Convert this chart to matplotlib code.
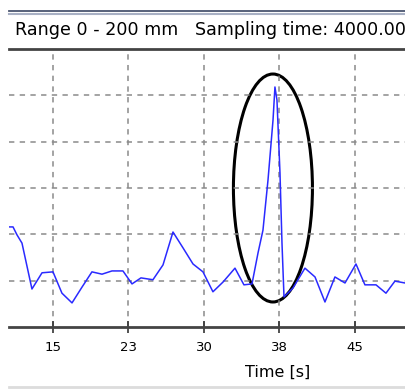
import matplotlib.pyplot as plt
from matplotlib.patches import Ellipse
from matplotlib.lines import Line2D

# time [s] and sensor signal (arbitrary units, grid every 10)
time_s = [10.63, 11.03, 11.42, 11.92, 12.91, 13.91, 15.0, 15.89, 16.89, 17.88,
          18.87, 19.87, 20.86, 21.95, 22.85, 23.74, 24.93, 25.93, 26.92, 27.91,
          28.91, 29.90, 30.89, 31.89, 33.08, 33.97, 34.77, 35.37, 35.86, 36.36,
          36.86, 37.05, 37.25, 37.55, 37.75, 37.95, 38.84, 40.03, 41.03, 42.02,
          43.01, 44.01, 45.10, 45.99, 47.09, 48.08, 48.97, 49.97]
signal = [21.6, 21.6, 19.9, 18.1, 8.2, 11.7, 11.9, 7.3, 5.2, 8.6,
          11.9, 11.4, 12.1, 12.1, 9.3, 10.6, 10.2, 13.4, 20.5, 17.1,
          13.6, 11.9, 7.6, 9.7, 12.7, 9.1, 9.3, 16.0, 20.9, 31.7,
          44.7, 51.8, 49.0, 33.3, 18.1, 6.5, 8.4, 12.7, 10.8, 5.4,
          10.8, 9.5, 13.6, 9.1, 9.1, 7.3, 9.9, 9.5]

tick_pos = [15, 22.5, 30, 37.5, 45]
tick_labels = ['15', '23', '30', '38', '45']
grid_y = [10, 20, 30, 40, 50]

fig = plt.figure(figsize=(4.06, 3.90), dpi=100)

# header strip
fig.add_artist(Line2D([9 / 406, 1], [1 - 10.5 / 390] * 2, color='#4a5570', lw=1.3))
fig.add_artist(Line2D([9 / 406, 1], [1 - 13.5 / 390] * 2, color='#a8b0c4', lw=1.5))
fig.text(15 / 406, 1 - 30 / 390, 'Range 0 - 200 mm', fontsize=12.6, va='center', ha='left')
fig.text(195 / 406, 1 - 30 / 390, 'Sampling time: 4000.000', fontsize=12.6, va='center', ha='left')
fig.add_artist(Line2D([9 / 406, 1], [1 - 387 / 390] * 2, color='#dcdcdc', lw=2))

ax = fig.add_axes([9 / 406, 63 / 390, 397 / 406, 278 / 390])
ax.plot(time_s, signal, color='#2a2aff', lw=1.1)

# highlight of the peak
ax.add_patch(Ellipse((36.85, 30.0), 7.85, 49.2, fill=False, edgecolor='black', lw=2.2))

ax.set_xlim(10.63, 50.07)
ax.set_ylim(0, 60)
ax.set_xticks(tick_pos)
ax.set_xticklabels(tick_labels, fontsize=9.5)
ax.set_yticks(grid_y)
ax.tick_params(axis='y', left=False, labelleft=False)
ax.tick_params(axis='x', direction='inout', length=8, width=1.2, color='#333333', pad=6)
ax.grid(True, color='#8a8a8a', linestyle=(0, (3.5, 3.5)), lw=1.1)

for side in ['left', 'right']:
    ax.spines[side].set_visible(False)
ax.spines['bottom'].set_color('#444444')
ax.spines['bottom'].set_linewidth(2)
ax.spines['top'].set_color('#444444')
ax.spines['top'].set_linewidth(2)

ax.set_xlabel('Time [s]', fontsize=11.5)
ax.xaxis.set_label_coords((278 - 9) / 397, -38 / 278)

plt.savefig('out.png', dpi=100)
